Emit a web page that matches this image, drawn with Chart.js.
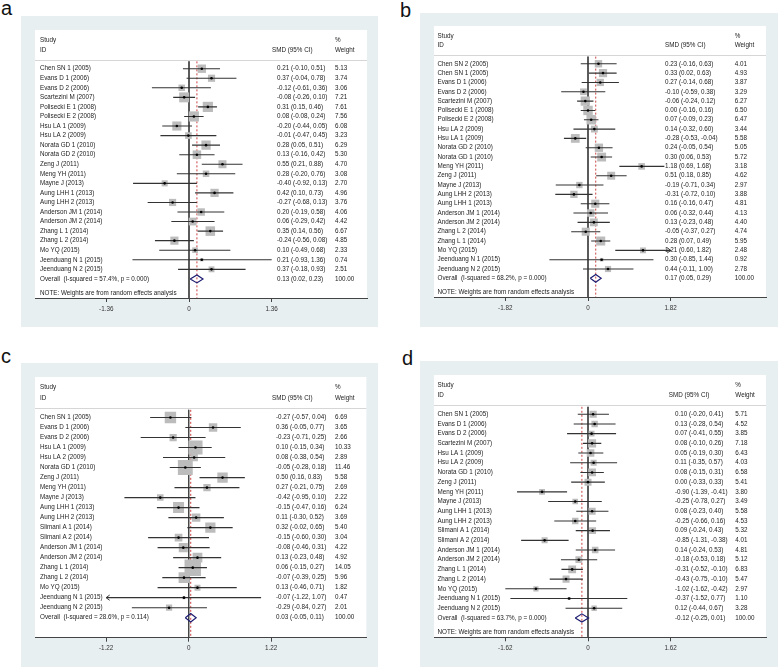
<!DOCTYPE html>
<html>
<head>
<meta charset="utf-8">
<script src="https://cdn.jsdelivr.net/npm/chart.js@4.4.0/dist/chart.umd.min.js"></script>
<style>
  body { margin: 0; background: #fff; }
  #wrap { position: relative; width: 778px; height: 668px; overflow: hidden; font-family: "Liberation Sans", Arial, sans-serif; }
  .tag { position: absolute; font-size: 20px; line-height: 20px; color: #111; }
  canvas { position: absolute; }
</style>
</head>
<body>
<div id="wrap">
  <div class="tag" style="left:1px;top:-2px">a</div>
  <div class="tag" style="left:400px;top:0px">b</div>
  <div class="tag" style="left:1px;top:346px">c</div>
  <div class="tag" style="left:402px;top:348px">d</div>
  <canvas id="fa" width="357" height="311" style="left:21px;top:16px"></canvas>
  <canvas id="fb" width="358" height="314" style="left:420px;top:13px"></canvas>
  <canvas id="fc" width="357" height="304" style="left:21px;top:363px"></canvas>
  <canvas id="fd" width="358" height="306" style="left:420px;top:361px"></canvas>
</div>
<script>
// ---- panel a ----
const aStudy = ['Chen SN 1 (2005)', 'Evans D 1 (2006)', 'Evans D 2 (2006)', 'Scartezini M (2007)',
  'Polisecki E 1 (2008)', 'Polisecki E 2 (2008)', 'Hsu LA 1 (2009)', 'Hsu LA 2 (2009)',
  'Norata GD 1 (2010)', 'Norata GD 2 (2010)', 'Zeng J (2011)', 'Meng YH (2011)', 'Mayne J (2013)',
  'Aung LHH 1 (2013)', 'Aung LHH 2 (2013)', 'Anderson JM 1 (2014)', 'Anderson JM 2 (2014)',
  'Zhang L 1 (2014)', 'Zhang L 2 (2014)', 'Mo YQ (2015)', 'Jeenduang N 1 (2015)', 'Jeenduang N 2 (2015)'];
const aSmd    = [0.21, 0.37, -0.12, -0.08, 0.31, 0.08, -0.20, -0.01, 0.28, 0.13, 0.55, 0.28, -0.40, 0.42, -0.27, 0.20, 0.06, 0.35, -0.24, 0.10, 0.21, 0.37];
const aLow    = [-0.10, -0.04, -0.61, -0.26, 0.15, -0.08, -0.44, -0.47, 0.05, -0.16, 0.21, -0.20, -0.92, 0.10, -0.68, -0.19, -0.29, 0.14, -0.56, -0.49, -0.93, -0.18];
const aHigh   = [0.51, 0.78, 0.36, 0.10, 0.46, 0.24, 0.05, 0.45, 0.51, 0.42, 0.88, 0.76, 0.13, 0.73, 0.13, 0.58, 0.42, 0.56, 0.08, 0.68, 1.36, 0.93];
const aWeight = [5.13, 3.74, 3.06, 7.21, 7.61, 7.56, 6.08, 3.23, 6.29, 5.30, 4.70, 3.08, 2.70, 4.96, 3.76, 4.06, 4.42, 6.67, 4.85, 2.33, 0.74, 2.51];
const aOverall = [0.13, 0.02, 0.23];
const aHet = [57.4, 0.000];
const aTick = 1.36;

// ---- panel b ----
const bStudy = ['Chen SN 2 (2005)', 'Chen SN 1 (2005)', 'Evans D 1 (2006)', 'Evans D 2 (2006)',
  'Scartezini M (2007)', 'Polisecki E 1 (2008)', 'Polisecki E 2 (2008)', 'Hsu LA 2 (2009)',
  'Hsu LA 1 (2009)', 'Norata GD 2 (2010)', 'Norata GD 1 (2010)', 'Meng YH (2011)', 'Zeng J (2011)',
  'Mayne J (2013)', 'Aung LHH 2 (2013)', 'Aung LHH 1 (2013)', 'Anderson JM 1 (2014)',
  'Anderson JM 2 (2014)', 'Zhang L 2 (2014)', 'Zhang L 1 (2014)', 'Mo YQ (2015)',
  'Jeenduang N 1 (2015)', 'Jeenduang N 2 (2015)'];
const bSmd    = [0.23, 0.33, 0.27, -0.10, -0.06, 0.00, 0.07, 0.14, -0.28, 0.24, 0.30, 1.18, 0.51, -0.19, -0.31, 0.16, 0.06, 0.13, -0.05, 0.28, 1.21, 0.30, 0.44];
const bLow    = [-0.16, 0.02, -0.14, -0.59, -0.24, -0.16, -0.09, -0.32, -0.53, -0.05, 0.06, 0.69, 0.18, -0.71, -0.72, -0.16, -0.32, -0.23, -0.37, 0.07, 0.60, -0.85, -0.11];
const bHigh   = [0.63, 0.63, 0.68, 0.38, 0.12, 0.16, 0.23, 0.60, -0.04, 0.54, 0.53, 1.68, 0.85, 0.34, 0.10, 0.47, 0.44, 0.48, 0.27, 0.49, 1.82, 1.44, 1.00];
const bWeight = [4.01, 4.93, 3.87, 3.29, 6.27, 6.50, 6.47, 3.44, 5.58, 5.05, 5.72, 3.18, 4.62, 2.97, 3.88, 4.81, 4.13, 4.40, 4.74, 5.95, 2.48, 0.92, 2.78];
const bOverall = [0.17, 0.05, 0.29];
const bHet = [68.2, 0.000];
const bTick = 1.82;

// ---- panel c ----
const cStudy = ['Chen SN 1 (2005)', 'Evans D 1 (2006)', 'Evans D 2 (2006)', 'Hsu LA 1 (2009)',
  'Hsu LA 2 (2009)', 'Norata GD 1 (2010)', 'Zeng J (2011)', 'Meng YH (2011)', 'Mayne J (2013)',
  'Aung LHH 1 (2013)', 'Aung LHH 2 (2013)', 'Slimani A 1 (2014)', 'Slimani A 2 (2014)',
  'Anderson JM 1 (2014)', 'Anderson JM 2 (2014)', 'Zhang L 1 (2014)', 'Zhang L 2 (2014)',
  'Mo YQ (2015)', 'Jeenduang N 1 (2015)', 'Jeenduang N 2 (2015)'];
const cSmd    = [-0.27, 0.36, -0.23, 0.10, 0.08, -0.05, 0.50, 0.27, -0.42, -0.15, 0.11, 0.32, -0.15, -0.08, 0.13, 0.06, -0.07, 0.13, -0.07, -0.29];
const cLow    = [-0.57, -0.05, -0.71, -0.15, -0.38, -0.28, 0.16, -0.21, -0.95, -0.47, -0.30, -0.02, -0.60, -0.46, -0.23, -0.15, -0.39, -0.46, -1.22, -0.84];
const cHigh   = [0.04, 0.77, 0.25, 0.34, 0.54, 0.18, 0.83, 0.75, 0.10, 0.16, 0.52, 0.65, 0.30, 0.31, 0.48, 0.27, 0.25, 0.71, 1.07, 0.27];
const cWeight = [6.69, 3.65, 2.66, 10.33, 2.89, 11.46, 5.58, 2.69, 2.22, 6.24, 3.69, 5.40, 3.04, 4.22, 4.92, 14.05, 5.96, 1.82, 0.47, 2.01];
const cOverall = [0.03, -0.05, 0.11];
const cHet = [28.6, 0.114];
const cTick = 1.22;

// ---- panel d ----
const dStudy = ['Chen SN 1 (2005)', 'Evans D 1 (2006)', 'Evans D 2 (2006)', 'Scartezini M (2007)',
  'Hsu LA 1 (2009)', 'Hsu LA 2 (2009)', 'Norata GD 1 (2010)', 'Zeng J (2011)', 'Meng YH (2011)',
  'Mayne J (2013)', 'Aung LHH 1 (2013)', 'Aung LHH 2 (2013)', 'Slimani A 1 (2014)',
  'Slimani A 2 (2014)', 'Anderson JM 1 (2014)', 'Anderson JM 2 (2014)', 'Zhang L 1 (2014)',
  'Zhang L 2 (2014)', 'Mo YQ (2015)', 'Jeenduang N 1 (2015)', 'Jeenduang N 2 (2015)'];
const dSmd    = [0.10, 0.13, 0.07, 0.08, 0.05, 0.11, 0.08, 0.00, -0.90, -0.25, 0.08, -0.25, 0.09, -0.85, 0.14, -0.18, -0.31, -0.43, -1.02, -0.37, 0.12];
const dLow    = [-0.20, -0.28, -0.41, -0.10, -0.19, -0.35, -0.15, -0.33, -1.39, -0.78, -0.23, -0.66, -0.24, -1.31, -0.24, -0.53, -0.52, -0.75, -1.62, -1.52, -0.44];
const dHigh   = [0.41, 0.54, 0.55, 0.26, 0.30, 0.57, 0.31, 0.33, -0.41, 0.27, 0.40, 0.16, 0.43, -0.38, 0.53, 0.18, -0.10, -0.10, -0.42, 0.77, 0.67];
const dWeight = [5.71, 4.52, 3.85, 7.18, 6.43, 4.03, 6.58, 5.41, 3.80, 3.49, 5.58, 4.53, 5.32, 4.01, 4.81, 5.12, 6.83, 5.47, 2.97, 1.10, 3.28];
const dOverall = [-0.12, -0.25, 0.01];
const dHet = [63.7, 0.000];
const dTick = 1.62;

const FONT = '"Liberation Sans", Arial, sans-serif';
Chart.defaults.font.family = FONT;

const f2 = v => v.toFixed(2);

function forest(id, d, lay) {
  const n = d.study.length;
  const T = d.tick;
  const o = d.overall;

  const boxes = d.smd.map((v, i) => ({ x: v, y: i }));
  const ci = [];
  d.smd.forEach((v, i) => {
    ci.push({ x: d.low[i], y: i }, { x: d.high[i], y: i }, { x: d.high[i], y: null });
  });
  const diamond = [
    { x: o[1], y: n }, { x: o[0], y: n - 0.42 }, { x: o[2], y: n },
    { x: o[0], y: n + 0.42 }, { x: o[1], y: n }
  ];

  const bg = {
    id: 'bg',
    beforeDraw(c) {
      const { ctx, chartArea: a, width, height, scales: { y } } = c;
      ctx.save();
      ctx.fillStyle = '#e8eff1';
      ctx.fillRect(0, 0, width, height);
      ctx.fillStyle = '#ffffff';
      ctx.fillRect(a.left, a.top, a.right - a.left, a.bottom - a.top);
      const hy = Math.round(y.getPixelForValue(-0.92)) + 0.5;
      ctx.strokeStyle = '#d6d6d6';
      ctx.lineWidth = 1;
      ctx.beginPath();
      ctx.moveTo(a.left, hy);
      ctx.lineTo(a.right, hy);
      ctx.stroke();
      ctx.restore();
    }
  };

  const labels = {
    id: 'labels',
    afterDraw(c) {
      const { ctx, chartArea: a, scales: { x, y } } = c;
      const L = a.left;
      const [cStudy, cHead, cVal, cWt] = lay.cols;
      ctx.save();
      ctx.font = '6.3px ' + FONT;
      ctx.fillStyle = '#222';
      ctx.textBaseline = 'middle';
      ctx.fillText('Study', L + cStudy, y.getPixelForValue(-3.0));
      ctx.fillText('ID', L + cStudy, y.getPixelForValue(-1.95));
      ctx.fillText('SMD (95% CI)', L + cHead, y.getPixelForValue(-1.95));
      ctx.fillText('%', L + cWt, y.getPixelForValue(-3.0));
      ctx.fillText('Weight', L + cWt, y.getPixelForValue(-1.95));
      d.study.forEach((s, i) => {
        const py = y.getPixelForValue(i);
        ctx.fillText(s, L + cStudy, py);
        ctx.fillText(f2(d.smd[i]) + ' (' + f2(d.low[i]) + ', ' + f2(d.high[i]) + ')', L + cVal, py);
        ctx.fillText(f2(d.weight[i]), L + cWt, py);
      });
      const oy = y.getPixelForValue(n);
      ctx.fillText('Overall  (I-squared = ' + d.het[0].toFixed(1) + '%, p = ' + d.het[1].toFixed(3) + ')', L + cStudy, oy);
      ctx.fillText(f2(o[0]) + ' (' + f2(o[1]) + ', ' + f2(o[2]) + ')', L + cVal, oy);
      ctx.fillText('100.00', L + cWt, oy);
      if (lay.note) {
        ctx.fillText('NOTE: Weights are from random effects analysis', L + cStudy, y.getPixelForValue(n + 1.5));
      }
      // arrowheads where the CI runs past the axis labels
      ctx.strokeStyle = '#333';
      ctx.lineWidth = 1;
      lay.arrows.forEach(i => {
        const right = d.high[i] >= T;
        const px = x.getPixelForValue(right ? d.high[i] : d.low[i]);
        const py = y.getPixelForValue(i);
        const s = right ? -1 : 1;
        ctx.beginPath();
        ctx.moveTo(px + s * 3.5, py - 2.6);
        ctx.lineTo(px, py);
        ctx.lineTo(px + s * 3.5, py + 2.6);
        ctx.stroke();
      });
      ctx.restore();
    }
  };

  new Chart(document.getElementById(id), {
    type: 'scatter',
    data: {
      datasets: [
        { type: 'scatter', data: boxes, order: 1,
          pointStyle: 'circle', pointRadius: 1.3, pointBackgroundColor: '#000', pointBorderWidth: 0 },
        { type: 'line', data: diamond, order: 2, borderColor: '#1c1c72', borderWidth: 1.2,
          pointRadius: 0, fill: false },
        { type: 'line', data: ci, order: 3, borderColor: '#333', borderWidth: 1.1,
          pointRadius: 0, fill: false, spanGaps: false },
        { type: 'scatter', data: boxes, order: 4, pointStyle: 'rect',
          pointRadius: ctx => lay.k * Math.sqrt(d.weight[ctx.dataIndex]) / Math.SQRT2,
          pointBackgroundColor: '#bcbcbc', backgroundColor: '#bcbcbc', pointBorderWidth: 0 },
        { type: 'line', data: [{ x: o[0], y: -0.77 }, { x: o[0], y: n + 2 }], order: 5,
          borderColor: '#cc4040', borderWidth: 1, borderDash: [2, 2], pointRadius: 0, fill: false },
        { type: 'line', data: [{ x: 0, y: -0.77 }, { x: 0, y: n + 2 }], order: 6,
          borderColor: '#444', borderWidth: 1, pointRadius: 0, fill: false }
      ]
    },
    options: {
      responsive: false,
      animation: false,
      events: [],
      layout: { padding: { left: 14, right: lay.padR, top: lay.padT, bottom: lay.padB } },
      plugins: { legend: { display: false }, tooltip: { enabled: false } },
      scales: {
        x: {
          type: 'linear',
          min: -1.862 * T,
          max: 2.152 * T,
          afterBuildTicks: s => { s.ticks = [-T, 0, T].map(v => ({ value: v })); },
          afterFit: s => { s.height = 22; },
          ticks: {
            callback: v => (v === 0 ? '0' : v.toFixed(2)),
            color: '#333', font: { size: 6.3 }, padding: 3, autoSkip: false, maxRotation: 0
          },
          grid: { drawOnChartArea: false, drawTicks: true, tickLength: 4, color: '#444' },
          border: { display: true, color: '#444', width: 1 }
        },
        y: { type: 'linear', display: false, reverse: true, min: -4.05, max: n + 2 }
      }
    },
    plugins: [bg, labels]
  });
}

forest('fa', { study: aStudy, smd: aSmd, low: aLow, high: aHigh, weight: aWeight, overall: aOverall, het: aHet, tick: aTick },
  { cols: [5, 237, 242, 300], padR: 11, padT: 14, padB: 7, k: 3.7, note: true, arrows: [] });
forest('fb', { study: bStudy, smd: bSmd, low: bLow, high: bHigh, weight: bWeight, overall: bOverall, het: bHet, tick: bTick },
  { cols: [3.5, 231, 231, 300.7], padR: 12, padT: 13, padB: 8, k: 3.7, note: true, arrows: [20] });
forest('fc', { study: cStudy, smd: cSmd, low: cLow, high: cHigh, weight: cWeight, overall: cOverall, het: cHet, tick: cTick },
  { cols: [5, 237, 241, 300], padR: 11, padT: 14, padB: 7.3, k: 4.4, note: false, arrows: [18] });
forest('fd', { study: dStudy, smd: dSmd, low: dLow, high: dHigh, weight: dWeight, overall: dOverall, het: dHet, tick: dTick },
  { cols: [3.5, 234.7, 241, 301.3], padR: 12, padT: 14, padB: 7.7, k: 3.0, note: true, arrows: [] });
</script>
</body>
</html>
